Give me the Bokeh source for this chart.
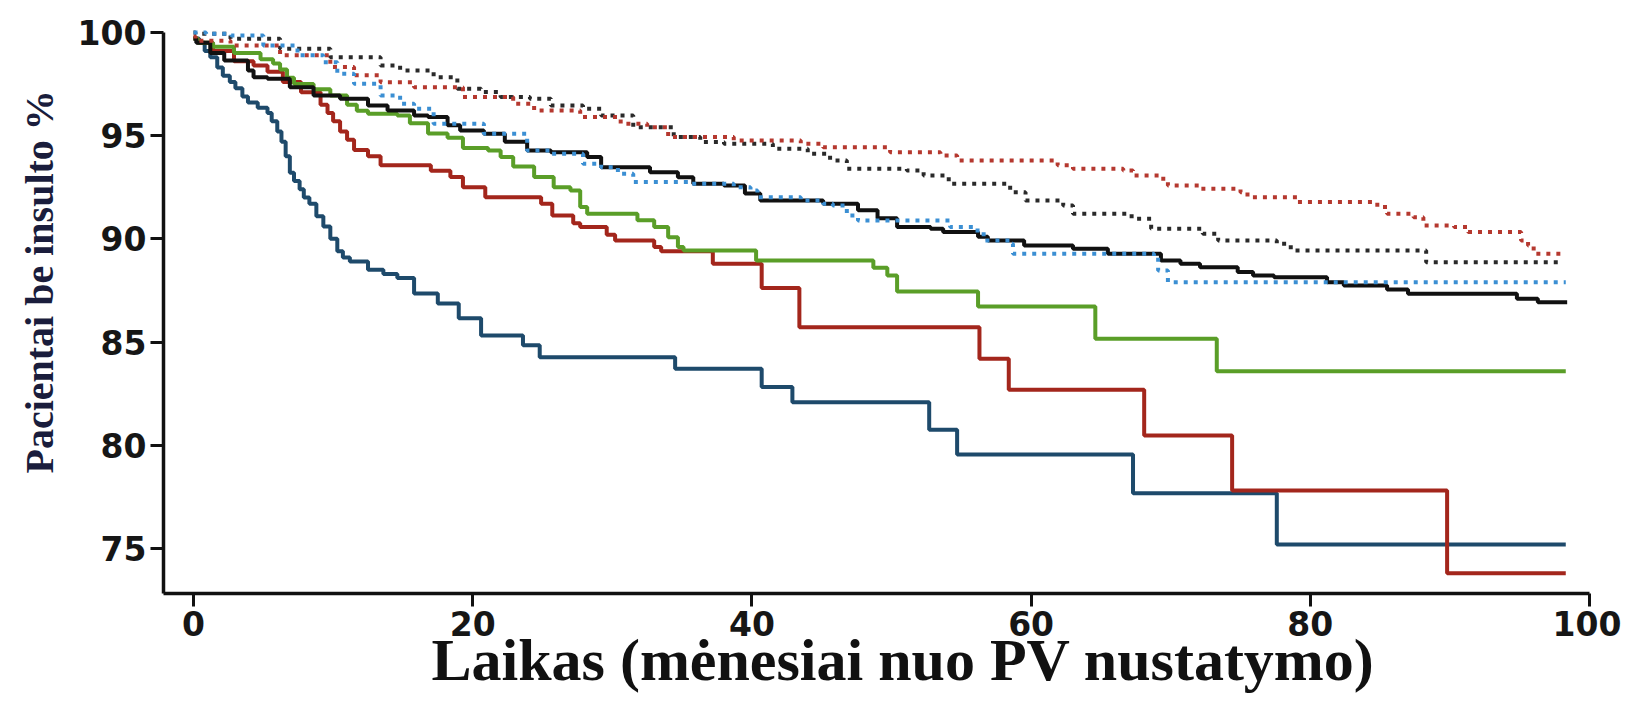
from bokeh.plotting import figure
from bokeh.models import FixedTicker, Range1d, Title
from bokeh.embed import file_html
from bokeh.resources import INLINE

# ---------------- data ----------------
x_ticks = [0, 20, 40, 60, 80, 100]
y_ticks = [75, 80, 85, 90, 95, 100]

navy_t = [0, 0.4, 0.8, 1.2, 1.7, 2.1, 2.6, 3.0, 3.5, 3.9, 4.6, 5.3, 5.6, 6.0, 6.3, 6.6, 6.9, 7.2, 7.6, 7.9, 8.3,
          8.8, 9.3, 9.8, 10.3, 10.7, 11.2, 12.5, 13.6, 14.6,
          15.8, 17.5, 19.0, 20.6, 23.6, 24.8, 34.5, 40.7, 42.9, 52.7, 54.7, 67.3, 77.6, 98.3]
navy_s = [99.7, 99.5, 99.1, 98.8, 98.3, 97.9, 97.6, 97.3, 96.9, 96.6, 96.35, 96.1, 95.7, 95.2, 94.7, 94.0, 93.2, 92.8, 92.4, 92.0, 91.7,
          91.1, 90.6, 90.0, 89.4, 89.1, 88.9, 88.5, 88.3, 88.1,
          87.35, 86.87, 86.15, 85.32, 84.84, 84.27, 83.71, 82.82, 82.09, 80.75, 79.55, 77.68, 75.19, 75.19]

red_t = [0, 0.3, 1.4, 2.9, 4.3, 5.3, 6.4, 7.7, 9.1, 9.6, 10.0, 10.5, 11.0, 11.5, 12.5, 13.4, 17.0, 18.4, 19.3, 20.9, 24.9,
         25.7, 27.2, 27.7, 29.6, 30.2, 33.0, 33.5, 37.2, 40.7, 43.4, 56.3, 58.4, 68.1, 74.4, 89.8, 98.3]
red_s = [99.7, 99.5, 99.1, 98.6, 98.4, 98.1, 97.6, 97.1, 96.5, 96.1, 95.7, 95.2, 94.8, 94.3, 94.0, 93.56, 93.3, 93.0, 92.5, 92.02, 91.7,
         91.13, 90.75, 90.57, 90.2, 89.92, 89.6, 89.4, 88.79, 87.62, 85.72, 84.19, 82.69, 80.47, 77.81, 73.8, 73.8]

green_t = [0, 0.3, 1.4, 2.9, 4.8, 5.7, 6.2, 6.7, 7.2, 8.6, 9.8, 11.0, 11.7, 12.5, 14.6, 15.5, 16.8, 18.2, 19.3,
           21.1, 22.0, 22.9, 24.4, 25.8, 27.0, 27.7, 28.2, 31.8, 33.0, 34.0, 34.7, 35.1, 40.3, 48.7, 49.7, 50.4,
           56.2, 64.6, 73.3, 98.3]
green_s = [99.7, 99.5, 99.3, 99.0, 98.7, 98.5, 98.2, 97.8, 97.5, 97.25, 96.95, 96.5, 96.2, 96.06, 95.98, 95.6, 95.1, 94.9, 94.4,
           94.28, 93.96, 93.5, 93.0, 92.5, 92.34, 91.54, 91.22, 90.9, 90.57, 90.08, 89.6, 89.44, 88.95, 88.6, 88.23, 87.45,
           86.72, 85.16, 83.59, 83.59]

black_t = [0, 0.2, 1.2, 2.2, 3.9, 4.3, 5.3, 6.9, 8.6, 10.5, 12.5, 13.9, 15.8, 16.8, 18.2, 19.1, 20.8, 22.3, 23.9,
           25.6, 28.2, 29.2, 32.7, 34.7, 35.8, 38.0, 39.5, 40.6, 45.1, 47.6, 49.0, 50.4, 52.8, 53.7, 56.2, 56.9,
           59.5, 63.0, 65.5, 69.3, 70.7, 72.1, 74.8, 75.9, 77.4, 81.2, 82.4, 85.5, 87.0, 94.8, 96.3, 98.4]
black_s = [99.7, 99.5, 99.0, 98.64, 98.16, 97.83, 97.76, 97.35, 96.95, 96.79, 96.46, 96.22, 95.98, 95.9, 95.5, 95.25, 95.09, 94.7, 94.28,
           94.2, 93.96, 93.47, 93.23, 92.99, 92.67, 92.59, 92.2, 91.86, 91.7, 91.38, 91.0, 90.57, 90.49, 90.33, 90.1, 89.92,
           89.68, 89.52, 89.28, 88.95, 88.79, 88.63, 88.4, 88.23, 88.14, 87.9, 87.74, 87.55, 87.34, 87.1, 86.93, 86.93]

blue_dot_t = [0, 0.9, 2.7, 5.0, 7.45, 9.3, 10.3, 11.5, 13.4, 14.8, 15.8, 17.2, 20.8, 23.9, 25.6, 27.9, 29.2, 30.4,
              31.5, 35.6, 38.7, 39.9, 40.4, 43.5, 45.1, 45.8, 46.8, 47.6, 54.2, 55.9, 56.6, 58.5, 58.7, 68.8, 69.1,
              69.8, 98.3]
blue_dot_s = [100, 99.94, 99.85, 99.37, 98.89, 98.56, 98.0, 97.51, 96.95, 96.54, 96.3, 95.58, 95.09, 94.28, 94.12, 93.64, 93.47, 93.15,
              92.75, 92.67, 92.5, 92.34, 92.02, 91.86, 91.7, 91.62, 91.13, 90.89, 90.57, 90.41, 89.92, 89.76, 89.28, 89.11, 88.47,
              87.9, 87.9]

black_dot_t = [0, 0.14, 2.65, 6.2, 9.8, 13.4, 14.8, 17.2, 18.9, 20.6, 22.0, 24.1, 25.6, 27.9, 29.2, 31.5, 34.4, 36.3,
               38.0, 41.5, 44.0, 45.6, 46.8, 51.1, 52.3, 54.1, 58.5, 59.6, 62.3, 63.0, 67.2, 68.6, 72.3, 73.4, 77.6,
               78.6, 88.3, 98.1]
black_dot_s = [100, 99.94, 99.69, 99.21, 98.8, 98.4, 98.16, 97.83, 97.27, 97.11, 96.87, 96.79, 96.46, 96.3, 95.98, 95.41, 94.93, 94.69,
               94.61, 94.37, 94.12, 93.8, 93.4, 93.31, 93.07, 92.67, 92.26, 91.86, 91.62, 91.22, 90.97, 90.49, 90.25, 89.92, 89.76,
               89.44, 88.87, 88.87]

red_dot_t = [0, 0.14, 2.65, 6.2, 9.8, 11.5, 13.4, 15.8, 19.3, 22.9, 24.4, 27.7, 30.6, 32.5, 34.0, 38.7, 43.5, 45.1,
             49.9, 53.5, 54.7, 61.9, 63.0, 66.6, 67.3, 69.3, 69.8, 72.1, 75.0, 75.5, 79.1, 84.8, 85.5, 87.4, 88.1,
             90.3, 91.3, 95.1, 95.6, 96.0, 98.1]
red_dot_s = [99.8, 99.6, 99.37, 98.89, 98.32, 97.92, 97.59, 97.35, 96.87, 96.54, 96.22, 95.9, 95.58, 95.41, 94.93, 94.77, 94.61, 94.44,
             94.2, 94.04, 93.8, 93.56, 93.4, 93.31, 93.07, 92.91, 92.59, 92.43, 92.26, 92.02, 91.78, 91.54, 91.22, 91.05, 90.65,
             90.57, 90.33, 89.92, 89.68, 89.28, 89.2]

x_label = "Laikas (mėnesiai nuo PV nustatymo)"
y_label = "Pacientai be insulto %"

# ---------------- figure ----------------
p = figure(width=1621, height=696, output_backend="svg", toolbar_location=None,
           x_range=Range1d(-2.15, 100.0), y_range=Range1d(72.82, 100.19),
           min_border_left=163, min_border_right=32, min_border_top=28, min_border_bottom=103)
p.outline_line_color = None
p.grid.visible = False
p.background_fill_color = "white"
p.border_fill_color = "white"

solid = [(navy_t, navy_s, "#1e4a6b"), (red_t, red_s, "#a3261c"),
         (green_t, green_s, "#5a9e28"), (black_t, black_s, "#111111")]
for t, s, c in solid:
    p.step(t, s, mode="after", line_color=c, line_width=4)

dotted = [(black_dot_t, black_dot_s, "#2a2a2a"), (red_dot_t, red_dot_s, "#b5382f"),
          (blue_dot_t, blue_dot_s, "#3b8fd3")]
for t, s, c in dotted:
    p.step(t, s, mode="after", line_color=c, line_width=4, line_dash="4 6")

for ax, ticks, bnd in ((p.xaxis[0], x_ticks, (-2.15, 100)), (p.yaxis[0], y_ticks, (72.82, 100))):
    ax.ticker = FixedTicker(ticks=ticks)
    ax.bounds = bnd
    ax.axis_line_width = 3.5
    ax.axis_line_color = "#111111"
    ax.major_tick_line_width = 3
    ax.major_tick_line_color = "#111111"
    ax.major_tick_out = 13
    ax.major_tick_in = 0
    ax.minor_tick_line_color = None
    ax.major_label_text_font = "DejaVu Sans"
    ax.major_label_text_font_style = "bold"
    ax.major_label_text_font_size = "33px"
    ax.major_label_text_color = "#161616"

p.xaxis[0].major_label_standoff = 4
p.yaxis[0].major_label_standoff = 4

# axis titles as side titles (positioned along the frame with offset)
p.add_layout(Title(text=y_label, align="left", offset=120, vertical_align="bottom", standoff=25,
                   text_font="Liberation Serif", text_font_style="bold",
                   text_font_size="40px", text_color="#1a1d3c"), "left")
p.add_layout(Title(text=x_label, align="left", offset=268, vertical_align="top", standoff=-23,
                   text_font="Liberation Serif", text_font_style="bold",
                   text_font_size="60px", text_color="#111111"), "below")

open("out.html", "w").write(file_html(p, INLINE))
